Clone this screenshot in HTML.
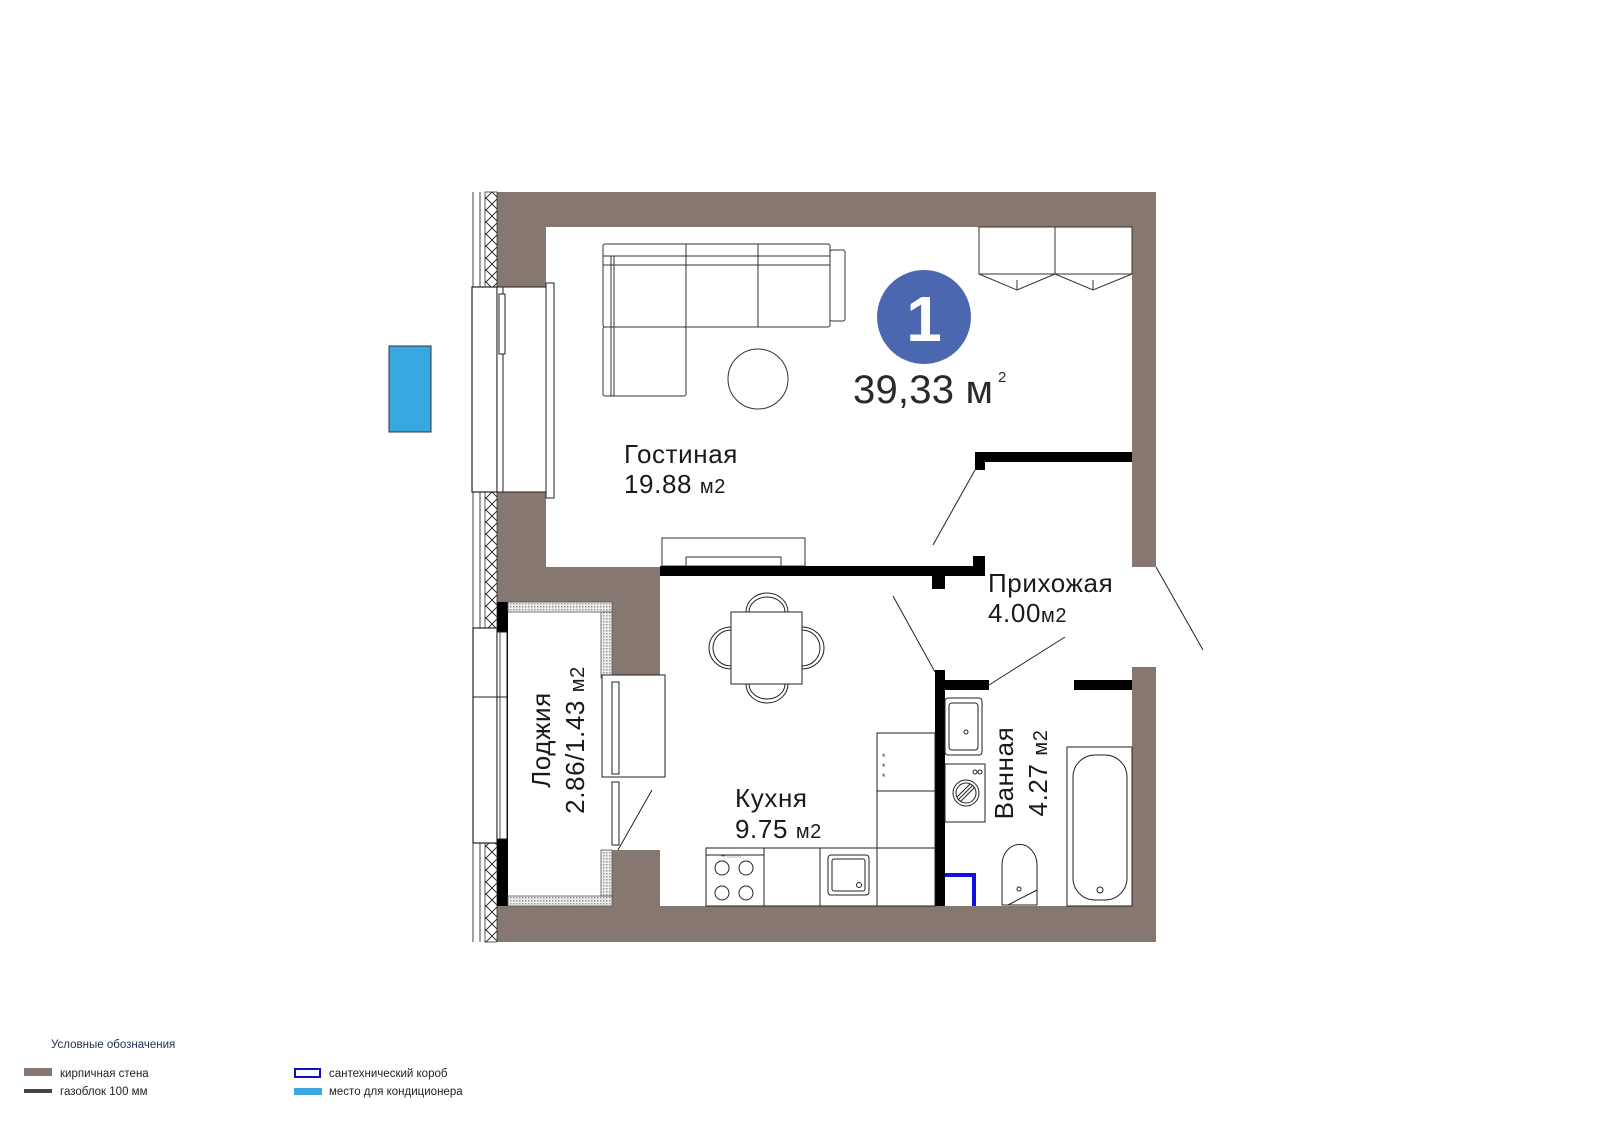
<!DOCTYPE html>
<html><head><meta charset="utf-8"><style>
html,body{margin:0;padding:0;background:#fff;}
svg{display:block;}
text{font-family:"Liberation Sans",sans-serif;}
</style></head><body>
<svg width="1600" height="1131" viewBox="0 0 1600 1131" xmlns="http://www.w3.org/2000/svg">
<defs>
<pattern id="xh" width="12" height="12" patternUnits="userSpaceOnUse">
<rect width="12" height="12" fill="#fff"/>
<path d="M0 0L12 12M12 0L0 12" stroke="#333" stroke-width="1"/>
</pattern>
<pattern id="dot" width="3" height="3" patternUnits="userSpaceOnUse">
<rect width="3" height="3" fill="#eee"/><rect width="1.5" height="1.5" fill="#999"/>
</pattern>
</defs>
<g fill="#867870">
<rect x="497" y="192" width="659" height="35"/>
<rect x="1132" y="192" width="24" height="375"/>
<rect x="1132" y="667" width="24" height="275"/>
<rect x="497" y="192" width="49" height="95"/>
<rect x="497" y="492" width="49" height="110"/>
<rect x="497" y="567" width="163" height="35"/>
<rect x="612" y="567" width="48" height="111"/>
<rect x="612" y="850" width="48" height="56"/>
<rect x="497" y="906" width="659" height="36"/>
</g>
<rect x="485" y="192" width="12" height="95" fill="url(#xh)" stroke="#333" stroke-width="0.8"/>
<rect x="485" y="492" width="12" height="136" fill="url(#xh)" stroke="#333" stroke-width="0.8"/>
<rect x="485" y="843" width="12" height="99" fill="url(#xh)" stroke="#333" stroke-width="0.8"/>
<g stroke="#444" stroke-width="1" fill="none">
<line x1="473" y1="192" x2="473" y2="942"/><line x1="480" y1="192" x2="480" y2="942"/>
</g>
<rect x="472" y="287" width="25" height="205" fill="#fff" stroke="#222" stroke-width="1.2"/>
<rect x="497" y="287" width="6" height="205" fill="#fff" stroke="#222" stroke-width="1"/>
<rect x="499" y="294" width="6" height="60" fill="#fff" stroke="#222" stroke-width="1"/>
<rect x="546" y="283" width="8" height="215" fill="#fff" stroke="#222" stroke-width="1"/>
<line x1="503" y1="287" x2="546" y2="287" stroke="#222"/>
<line x1="503" y1="492" x2="546" y2="492" stroke="#222"/>
<rect x="497" y="602" width="11" height="304" fill="#000"/>
<rect x="508" y="602" width="104" height="10" fill="url(#dot)" stroke="#555" stroke-width="0.8"/>
<rect x="601" y="612" width="11" height="66" fill="url(#dot)" stroke="#555" stroke-width="0.8"/>
<rect x="508" y="896" width="104" height="10" fill="url(#dot)" stroke="#555" stroke-width="0.8"/>
<rect x="601" y="850" width="11" height="46" fill="url(#dot)" stroke="#555" stroke-width="0.8"/>
<rect x="473" y="628" width="24" height="215" fill="#fff" stroke="#222" stroke-width="1.2"/>
<rect x="497" y="632" width="10" height="207" fill="#fff" stroke="#222" stroke-width="1"/>
<line x1="500" y1="632" x2="500" y2="839" stroke="#222" stroke-width="0.8"/>
<line x1="497" y1="697" x2="508" y2="697" stroke="#222"/><line x1="473" y1="697" x2="497" y2="697" stroke="#222"/>
<rect x="602" y="675" width="63" height="102" fill="#fff" stroke="#222" stroke-width="1"/>
<rect x="612" y="682" width="7" height="92" fill="#fff" stroke="#222" stroke-width="1"/>
<rect x="612" y="782" width="7" height="63" fill="#fff" stroke="#222" stroke-width="1"/>
<line x1="652" y1="790" x2="618" y2="850" stroke="#222"/>
<g fill="none" stroke="#333" stroke-width="1">
<rect x="603" y="244" width="227" height="83" rx="2"/>
<line x1="603" y1="256" x2="830" y2="256"/>
<line x1="614" y1="256" x2="614" y2="396"/>
<line x1="611" y1="256" x2="611" y2="396"/>
<line x1="603" y1="265" x2="830" y2="265"/>
<line x1="686" y1="244" x2="686" y2="327"/>
<line x1="758" y1="244" x2="758" y2="327"/>
<rect x="603" y="327" width="83" height="69" rx="2"/>
<rect x="830" y="250" width="15" height="71" rx="2"/>
<circle cx="758" cy="379" r="30"/>
<rect x="662" y="538" width="143" height="28"/>
<rect x="686" y="557" width="95" height="9"/>
<rect x="979" y="227" width="76" height="47"/>
<rect x="1055" y="227" width="77" height="47"/>
<path d="M979 274L1017 290L1055 274M1055 274L1093 290L1132 274"/>
<path d="M1017 280L1017 290M1093 280L1093 290"/>
</g>
<g fill="#000">
<rect x="660" y="566" width="325" height="10"/>
<rect x="973" y="556" width="12" height="20"/>
<rect x="932" y="576" width="13" height="13"/>
<rect x="975" y="452" width="157" height="10"/>
<rect x="975" y="452" width="10" height="18"/>
<rect x="935" y="670" width="10" height="236"/>
<rect x="935" y="680" width="54" height="10"/>
<rect x="1074" y="680" width="58" height="10"/>
</g>
<g stroke="#222" stroke-width="1" fill="none">
<line x1="975" y1="470" x2="933" y2="545"/>
<line x1="893" y1="596" x2="935" y2="672"/>
<line x1="1065" y1="637" x2="989" y2="685"/>
<line x1="1156" y1="567" x2="1203" y2="650"/>
<rect x="731" y="612" width="71" height="72" fill="#fff"/>
<path d="M746 612A21 19 0 0 1 788 612"/><path d="M749 612A18 15 0 0 1 785 612"/>
<path d="M746 684A21 19 0 0 0 788 684"/><path d="M749 684A18 15 0 0 0 785 684"/>
<path d="M731 627A22 21 0 0 0 731 669"/><path d="M731 630A18 18 0 0 0 731 666"/>
<path d="M802 627A22 21 0 0 1 802 669"/><path d="M802 630A18 18 0 0 1 802 666"/>
<rect x="706" y="848" width="229" height="58"/>
<line x1="764" y1="848" x2="764" y2="906"/>
<line x1="820" y1="848" x2="820" y2="906"/>
<line x1="877" y1="848" x2="877" y2="906"/>
<rect x="877" y="733" width="58" height="115"/>
<line x1="877" y1="791" x2="935" y2="791"/>
<line x1="706" y1="855" x2="764" y2="855"/>
<circle cx="722" cy="868" r="7"/><circle cx="746" cy="868" r="7"/>
<circle cx="722" cy="893" r="7"/><circle cx="746" cy="893" r="7"/>
<rect x="828" y="855" width="41" height="40" rx="3"/>
<rect x="832" y="859" width="33" height="32" rx="2"/>
<circle cx="859" cy="885" r="2.5"/>
<rect x="945" y="698" width="37" height="57" rx="3"/>
<rect x="949" y="703" width="29" height="47" rx="3"/>
<circle cx="966" cy="732" r="2"/>
<rect x="945" y="764" width="40" height="58"/>
<circle cx="966" cy="793" r="13"/><circle cx="966" cy="793" r="10"/>
<path d="M958 800L973 785M960 802L975 787M957 797L970 784"/>
<circle cx="980" cy="772" r="2"/><circle cx="975" cy="772" r="2"/>
<path d="M1002 905L1002 865A17 20 0 0 1 1037 865L1037 905Z"/>
<path d="M1008 905L1037 890"/>
<circle cx="1019" cy="889" r="2"/>
<rect x="1067" y="747" width="65" height="159"/>
<rect x="1073" y="755" width="54" height="145" rx="22"/>
<circle cx="1100" cy="890" r="3"/>
</g>
<text x="882" y="760" font-size="9" fill="#333">*</text>
<text x="882" y="770" font-size="9" fill="#333">*</text>
<text x="882" y="780" font-size="9" fill="#333">*</text>
<text x="721" y="858" font-size="6" fill="#333">•• ○○○○</text>
<path d="M945 875H974V906" fill="none" stroke="#1010e0" stroke-width="4"/>
<rect x="389" y="346" width="42" height="86" fill="#3aa8e0" stroke="#333" stroke-width="1"/>
<circle cx="924" cy="317" r="47" fill="#4a67b0"/>
<text x="924" y="341" font-size="64" font-weight="bold" fill="#fff" text-anchor="middle">1</text>
<text x="853" y="403" font-size="40" fill="#2a2a2a" textLength="140" lengthAdjust="spacing">39,33 м</text>
<text x="998" y="382" font-size="15" fill="#2a2a2a">2</text>
<g fill="#1a1a1a" font-size="26" letter-spacing="0.6">
<text x="624" y="463">Гостиная</text>
<text x="624" y="493">19.88 <tspan font-size="20">м2</tspan></text>
<text x="988" y="592">Прихожая</text>
<text x="988" y="622">4.00<tspan font-size="20">м2</tspan></text>
<text x="735" y="807">Кухня</text>
<text x="735" y="838">9.75 <tspan font-size="20">м2</tspan></text>
<text transform="translate(550,740) rotate(-90)" text-anchor="middle">Лоджия</text>
<text transform="translate(584,740) rotate(-90)" text-anchor="middle">2.86/1.43 <tspan font-size="20">м2</tspan></text>
<text transform="translate(1013,773) rotate(-90)" text-anchor="middle">Ванная</text>
<text transform="translate(1047,773) rotate(-90)" text-anchor="middle">4.27 <tspan font-size="20">м2</tspan></text>
</g>
<text x="51" y="1048" font-size="11.5" fill="#1f3050">Условные обозначения</text>
<rect x="24" y="1068" width="28" height="8" fill="#867870"/>
<text x="60" y="1077" font-size="11.5" fill="#222">кирпичная стена</text>
<rect x="24" y="1089" width="28" height="4" fill="#444"/>
<text x="60" y="1095" font-size="11.5" fill="#222">газоблок 100 мм</text>
<rect x="295" y="1069" width="25" height="8" fill="#fff" stroke="#1010c0" stroke-width="2"/>
<text x="329" y="1077" font-size="11.5" fill="#222">сантехнический короб</text>
<rect x="294" y="1088" width="28" height="7" fill="#3aa8e0"/>
<text x="329" y="1095" font-size="11.5" fill="#222">место для кондиционера</text>
</svg>
</body></html>
